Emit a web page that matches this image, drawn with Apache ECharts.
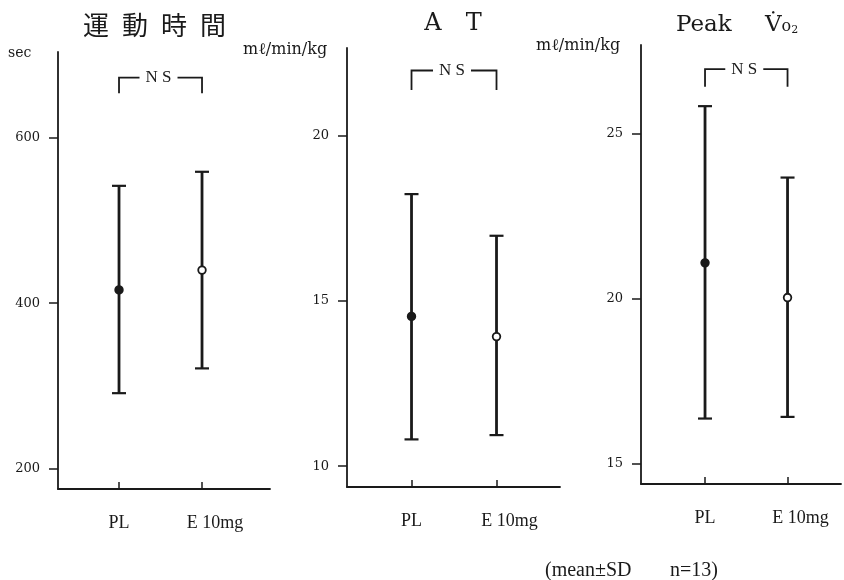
<!DOCTYPE html>
<html>
<head>
<meta charset="utf-8">
<script src="https://cdn.jsdelivr.net/npm/echarts@6/dist/echarts.min.js"></script>
<style>html,body{margin:0;padding:0;background:#fff}#c{width:844px;height:580px}</style>
</head>
<body>
<div id="c"></div>
<script>
// ---- data ----
const categories = ['PL', 'E 10mg'];
const panelTitles = ['運\u2002動\u2002時\u2002間', 'A\u2003T', 'Peak'];
const panelUnits = ['sec', 'm\u2113/min/kg', 'm\u2113/min/kg'];

const timeMean = [416, 440];
const timeLow = [291, 321];
const timeHigh = [542, 559];
const timeTicks = [200, 400, 600];

const atMean = [14.53, 13.92];
const atLow = [10.81, 10.94];
const atHigh = [18.23, 16.97];
const atTicks = [10, 15, 20];

const vo2Mean = [21.08, 20.03];
const vo2Low = [16.37, 16.42];
const vo2High = [25.82, 23.66];
const vo2Ticks = [15, 20, 25];

const nsLabel = 'N S';
const footnoteParts = ['(mean\u00b1SD', 'n=13)'];

// ---- layout ----
const INK = '#1a1a1a';
const SERIF = '"DejaVu Serif", "Liberation Serif", serif';
const LSERIF = '"Liberation Serif", serif';
const panels = [
  {mean: timeMean, low: timeLow, high: timeHigh, ticks: timeTicks,
   grid: {left: 58, top: 52, width: 212, bottom: 91}, x: [0.265, 2.819], y: [175, 704], ns: [654, 673]},
  {mean: atMean, low: atLow, high: atHigh, ticks: atTicks,
   grid: {left: 347, top: 48, width: 213, bottom: 93}, x: [0.241, 2.747], y: [9.37, 22.65], ns: [21.38, 21.97]},
  {mean: vo2Mean, low: vo2Low, high: vo2High, ticks: vo2Ticks,
   grid: {left: 641, top: 45, width: 200, bottom: 96}, x: [0.224, 2.648], y: [14.39, 27.67], ns: [26.41, 26.94]}
];

function errRender(params, api) {
  const x = api.value(0), lo = api.value(1), hi = api.value(2), m = api.value(3), filled = api.value(4);
  const pH = api.coord([x, hi]), pL = api.coord([x, lo]), pM = api.coord([x, m]);
  const cap = 7;
  return {type: 'group', children: [
    {type: 'line', shape: {x1: pH[0], y1: pH[1], x2: pL[0], y2: pL[1]}, style: {stroke: INK, lineWidth: 2.8}},
    {type: 'line', shape: {x1: pH[0] - cap, y1: pH[1], x2: pH[0] + cap, y2: pH[1]}, style: {stroke: INK, lineWidth: 2.2}},
    {type: 'line', shape: {x1: pL[0] - cap, y1: pL[1], x2: pL[0] + cap, y2: pL[1]}, style: {stroke: INK, lineWidth: 2.2}},
    {type: 'circle', shape: {cx: pM[0], cy: pM[1], r: 3.8},
     style: {fill: filled ? INK : '#fff', stroke: INK, lineWidth: 1.8}}
  ]};
}

function nsRender(params, api) {
  const x1 = api.value(0), x2 = api.value(1), yb = api.value(2), yt = api.value(3);
  const a = api.coord([x1, yb]), b = api.coord([x1, yt]), c = api.coord([x2, yt]), d = api.coord([x2, yb]);
  const mid = (b[0] + c[0]) / 2 - 2;
  const gap = 19;
  return {type: 'group', children: [
    {type: 'polyline', shape: {points: [a, b, [mid - gap, b[1]]]}, style: {stroke: INK, lineWidth: 1.8, fill: null}},
    {type: 'polyline', shape: {points: [[mid + gap, c[1]], c, d]}, style: {stroke: INK, lineWidth: 1.8, fill: null}},
    {type: 'text', x: mid, y: b[1], style: {text: nsLabel, font: '17px ' + LSERIF, fill: INK, align: 'center', verticalAlign: 'middle'}}
  ]};
}

const grids = [], xAxes = [], yAxes = [], series = [];
panels.forEach((p, i) => {
  grids.push(p.grid);
  xAxes.push({
    type: 'value', gridIndex: i, min: p.x[0], max: p.x[1],
    splitLine: {show: false},
    axisLine: {show: true, lineStyle: {color: INK, width: 1.8}},
    axisTick: {show: true, inside: true, length: 7, customValues: [1, 2], lineStyle: {color: INK, width: 1.5}},
    axisLabel: {show: true, customValues: [1, 2], margin: 25, color: INK, fontSize: 18,
      fontFamily: LSERIF,
      formatter: v => {
        const k = Math.round(v) - 1;
        return k === 1 ? '{e|' + categories[k] + '}' : (categories[k] || '');
      },
      rich: {e: {fontSize: 18, fontFamily: LSERIF, color: INK, padding: [0, 0, 0, 26]}}}
  });
  yAxes.push({
    type: 'value', gridIndex: i, min: p.y[0], max: p.y[1],
    splitLine: {show: false},
    axisLine: {show: true, lineStyle: {color: INK, width: 1.8}},
    axisTick: {show: true, length: 9, customValues: p.ticks, lineStyle: {color: INK, width: 1.5}},
    axisLabel: {show: true, customValues: p.ticks, margin: 18, color: INK, fontSize: 13, fontFamily: SERIF}
  });
  const errData = categories.map((c, k) => [k + 1, p.low[k], p.high[k], p.mean[k], k === 0 ? 1 : 0]);
  series.push({type: 'custom', xAxisIndex: i, yAxisIndex: i, renderItem: errRender, data: errData, clip: false, silent: true});
  series.push({type: 'custom', xAxisIndex: i, yAxisIndex: i, renderItem: nsRender, data: [[1, 2, p.ns[0], p.ns[1]]], clip: false, silent: true});
});

const graphic = [
  {type: 'text', x: 83, y: 25, style: {text: panelTitles[0], font: '26px "Noto Sans CJK JP"', fill: INK, verticalAlign: 'middle'}},
  {type: 'text', x: 453, y: 24, style: {text: panelTitles[1], font: '24px ' + SERIF, fill: INK, align: 'center', verticalAlign: 'middle'}},
  {type: 'text', x: 676, y: 25, style: {text: panelTitles[2], font: '23px ' + SERIF, fill: INK, verticalAlign: 'middle'}},
  {type: 'text', x: 765, y: 25, style: {
    text: '{b|V\u0307}{c|o}{d|2}', verticalAlign: 'middle',
    rich: {
      b: {font: '23px ' + SERIF, fill: INK},
      c: {font: '16px ' + SERIF, fill: INK, padding: [4, 0, 0, 0]},
      d: {font: '11px ' + SERIF, fill: INK, padding: [10, 0, 0, 0]}
    }}},
  {type: 'text', left: 8, top: 46, style: {text: panelUnits[0], font: '14px ' + SERIF, fill: INK}},
  {type: 'text', x: 243, y: 50, style: {text: panelUnits[1], font: '16px ' + SERIF, fill: INK, verticalAlign: 'middle'}},
  {type: 'text', x: 536, y: 46, style: {text: panelUnits[2], font: '16px ' + SERIF, fill: INK, verticalAlign: 'middle'}},
  {type: 'text', x: 545, y: 571, style: {text: footnoteParts[0], font: '20px ' + LSERIF, fill: INK, verticalAlign: 'middle'}},
  {type: 'text', x: 670, y: 571, style: {text: footnoteParts[1], font: '20px ' + LSERIF, fill: INK, verticalAlign: 'middle'}}
];

const chart = echarts.init(document.getElementById('c'), null, {renderer: 'canvas'});
chart.setOption({
  backgroundColor: '#fff',
  animation: false,
  grid: grids, xAxis: xAxes, yAxis: yAxes, series: series, graphic: graphic
});
</script>
</body>
</html>
